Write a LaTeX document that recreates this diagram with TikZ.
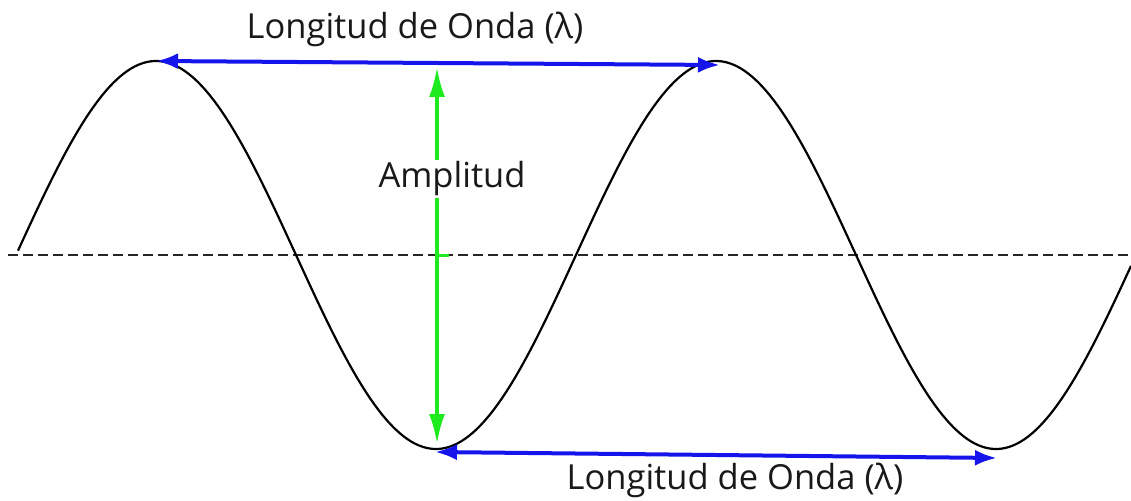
\documentclass[tikz,border=0pt]{standalone}
\usepackage{fontspec}
\setmainfont{Open Sans}
\usetikzlibrary{arrows.meta}
\definecolor{wblue}{RGB}{20,20,235}
\definecolor{wgreen}{RGB}{30,235,30}
\begin{document}
\begin{tikzpicture}[x=1pt,y=-1pt,
  wave/.style={line width=2.2pt, black},
  axisline/.style={line width=2pt, black!85, dash pattern=on 10pt off 5pt},
  lambdaarrow/.style={line width=4pt, wblue, {Latex[length=22pt,width=16pt]}-{Latex[length=22pt,width=16pt]}},
  amparrow/.style={line width=3.5pt, wgreen, {Latex[length=30pt,width=16pt]}-{Latex[length=30pt,width=16pt]}},
  lbl/.style={font=\fontsize{34.5}{38}\selectfont, inner sep=2pt, text=black!90}
]
\useasboundingbox (0,0) rectangle (1131,500);
\fill[white] (0,0) rectangle (1131,500);
% axis
\coordinate (axL) at (8,255);
\coordinate (axR) at (1131,255);
\draw[axisline] (axL) -- (axR);
% wave
\draw[wave] plot[domain=18:1131, samples=240, smooth] (\x, {255 - 194*sin((\x-16)/560*360)});
% key points
\coordinate (peakA) at (156,61);
\coordinate (peakB) at (720,65);
\coordinate (troughA) at (435,452);
\coordinate (troughB) at (997,458);
\coordinate (ampTop) at (437,67);
\coordinate (ampBot) at (437,444);
\coordinate (ampMid) at (437,255);
\coordinate (ampTick) at (449,255);
% arrows
\draw[lambdaarrow] (peakA) -- (peakB);
\draw[lambdaarrow] (troughA) -- (troughB);
\draw[amparrow] (ampTop) -- (ampBot);
\draw[wgreen, line width=3pt] (ampMid) -- (ampTick);
% labels
\node[lbl] (topLabel) at (415,29) {Longitud de Onda (λ)};
\node[lbl, fill=white] (ampLabel) at (452,179) {Amplitud};
\node[lbl] (botLabel) at (735,480) {Longitud de Onda (λ)};
\end{tikzpicture}
\end{document}
